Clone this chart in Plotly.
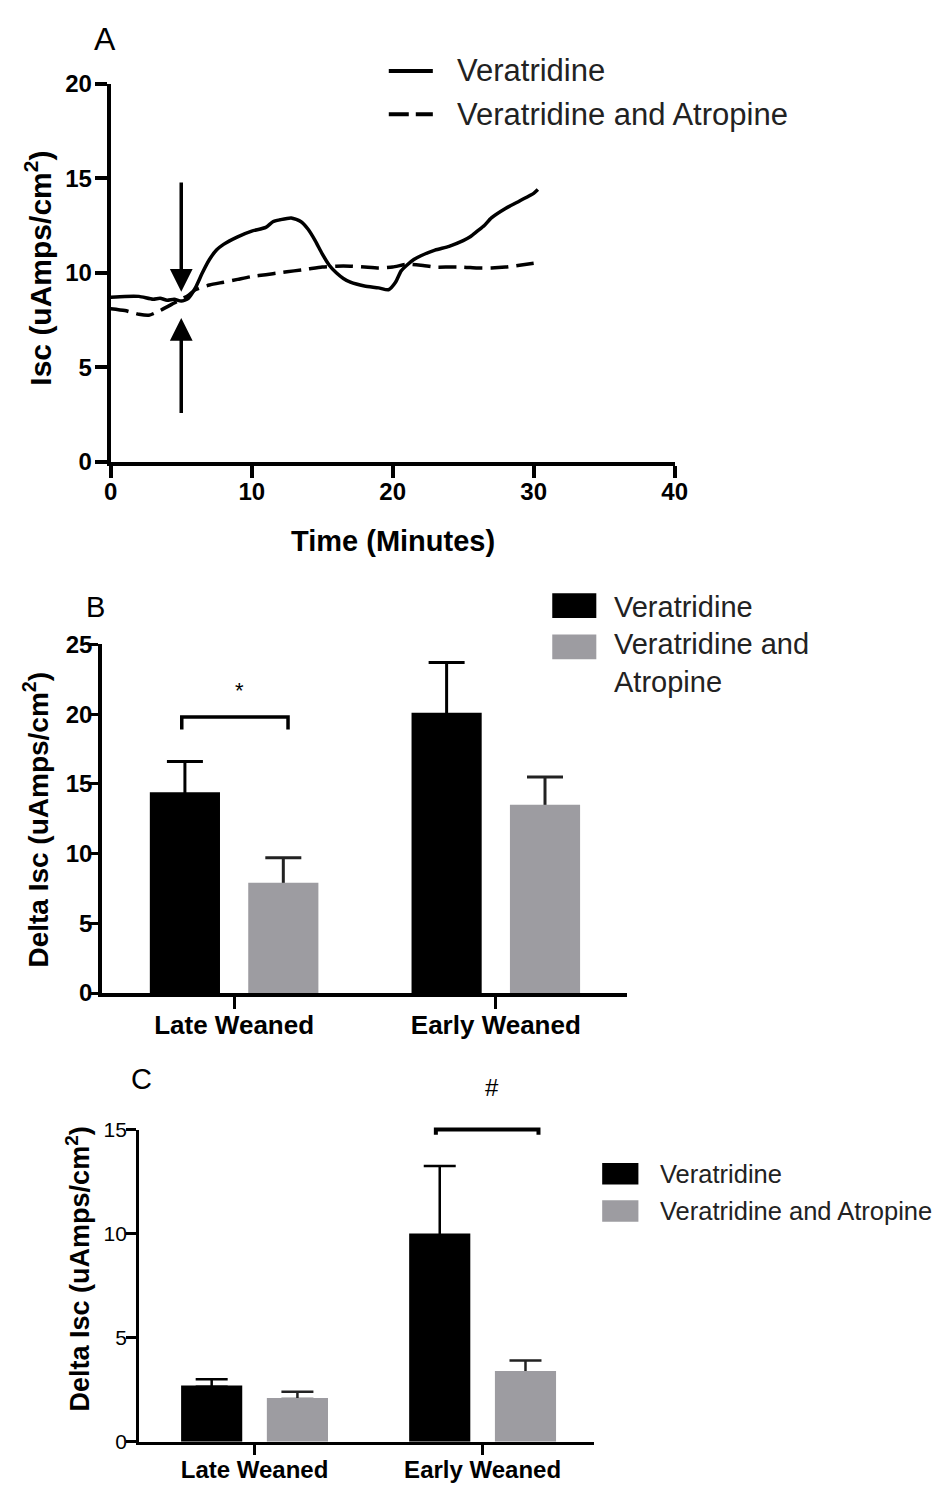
import plotly.graph_objects as go

W, H = 949, 1498
FONT = "Liberation Sans, Arial, sans-serif"
GREY = "#9d9ca1"

# ---- Panel A: short-circuit current time course ----
time_ver = [0, 1, 2, 3, 3.5, 4, 4.5, 5, 5.5, 6, 6.5, 7, 7.5, 8, 9, 10, 11, 11.5, 12,
            12.8, 13.5, 14, 14.5, 15, 15.5, 16, 16.5, 17, 18, 19, 19.7, 20.2, 20.6,
            21, 21.5, 22, 23, 24, 25, 25.5, 26, 26.5, 27, 28, 29, 30, 30.3]
isc_ver = [8.7, 8.75, 8.75, 8.6, 8.65, 8.55, 8.6, 8.5, 8.65, 9.2, 10.0, 10.7, 11.2, 11.5,
           11.9, 12.2, 12.4, 12.7, 12.8, 12.9, 12.7, 12.3, 11.7, 11.0, 10.4, 10.0, 9.7,
           9.5, 9.3, 9.2, 9.1, 9.5, 10.1, 10.4, 10.7, 10.9, 11.2, 11.4, 11.7, 11.9, 12.2,
           12.5, 12.9, 13.4, 13.8, 14.2, 14.4]

time_atr = [0, 1, 2, 2.7, 3.5, 4.5, 5, 5.5, 6, 7, 8, 9, 10, 11, 12, 13, 14, 15, 16, 17,
            18, 19, 20, 21, 22, 23, 24, 25, 26, 27, 28, 29, 30]
isc_atr = [8.1, 8.0, 7.8, 7.75, 8.0, 8.4, 8.6, 8.8, 9.1, 9.35, 9.5, 9.65, 9.8, 9.9, 10.0,
           10.1, 10.2, 10.3, 10.35, 10.35, 10.3, 10.25, 10.3, 10.45, 10.4, 10.3, 10.3,
           10.3, 10.25, 10.25, 10.3, 10.4, 10.5]

# drug addition markers: minute, (tip, tail)
add_time = 5
arrow_down = (9.0, 14.85)
arrow_up = (7.6, 2.5)

# ---- Panels B and C: delta Isc per weaning group ----
groups = ["Late Weaned", "Early Weaned"]
group_x = [0, 1]

b_ver = [14.4, 20.1]
b_ver_sem = [2.2, 3.6]
b_atr = [7.9, 13.5]
b_atr_sem = [1.8, 2.0]
B_YMAX = 25

c_ver = [2.7, 10.0]
c_ver_sem = [0.3, 3.25]
c_atr = [2.1, 3.4]
c_atr_sem = [0.3, 0.5]
C_YMAX = 15

series_names = ["Veratridine", "Veratridine and Atropine"]


def px(x):
    return x / W


def py(y):
    return 1 - y / H


fig = go.Figure()

# Panel A lines
fig.add_trace(go.Scatter(x=time_ver, y=isc_ver, mode="lines", name=series_names[0],
                         line=dict(color="black", width=3.5, shape="spline", smoothing=0.6),
                         xaxis="x", yaxis="y", showlegend=False))
fig.add_trace(go.Scatter(x=time_atr, y=isc_atr, mode="lines", name=series_names[1],
                         line=dict(color="black", width=3.5, dash="18px,8px", shape="spline",
                                   smoothing=0.6),
                         xaxis="x", yaxis="y", showlegend=False))


def bars(xa, ya, vals, sem, color, err_color, group, thick, capw):
    # error whiskers sit on a transparent twin so the bar itself hides the lower end
    fig.add_trace(go.Bar(x=group_x, y=vals, offsetgroup=group, marker_color="rgba(0,0,0,0)",
                         marker_line_width=0, xaxis=xa, yaxis=ya, showlegend=False,
                         hoverinfo="skip",
                         error_y=dict(type="data", symmetric=False, array=sem,
                                      arrayminus=[v * 0.02 for v in vals], color=err_color,
                                      thickness=thick, width=capw)))
    fig.add_trace(go.Bar(x=group_x, y=vals, offsetgroup=group, marker_color=color,
                         marker_line_width=0, xaxis=xa, yaxis=ya, showlegend=False))


bars("x2", "y2", b_ver, b_ver_sem, "black", "black", "ver", 3, 18)
bars("x2", "y2", b_atr, b_atr_sem, GREY, "#222222", "atr", 3, 18)
bars("x3", "y3", c_ver, c_ver_sem, "black", "black", "ver", 2.5, 16)
bars("x3", "y3", c_atr, c_atr_sem, GREY, "#222222", "atr", 2.5, 16)

axis_common = dict(showgrid=False, zeroline=False, showline=True, linecolor="black",
                   ticks="outside", tickcolor="black")

fig.update_layout(
    width=W, height=H,
    margin=dict(l=0, r=0, t=0, b=0),
    paper_bgcolor="white", plot_bgcolor="white",
    font=dict(family=FONT, color="black"),
    barmode="group", bargap=0.248, bargroupgap=0.287,
    showlegend=False,
    # Panel A
    xaxis=dict(domain=[px(106), px(682)], range=[0, 40], tickvals=[0, 10, 20, 30, 40],
               linewidth=4, ticklen=12, tickwidth=3.5, anchor="y",
               tickfont=dict(size=24, weight="bold", family=FONT),
               ticklabelstandoff=-7, **axis_common),
    yaxis=dict(domain=[py(456), py(71)], range=[0, 20], tickvals=[0, 5, 10, 15, 20],
               linewidth=4, ticklen=12, tickwidth=3.5, anchor="x",
               tickfont=dict(size=24, weight="bold", family=FONT),
               ticklabelstandoff=-2, **axis_common),
    # Panel B
    xaxis2=dict(domain=[px(97), px(633)], range=[-0.505, 1.5], tickvals=group_x,
                ticktext=groups, linewidth=3.5, ticklen=12, tickwidth=3, anchor="y2",
                tickfont=dict(size=26, weight="bold", family=FONT),
                ticklabelstandoff=-6, **axis_common),
    yaxis2=dict(domain=[py(997), py(642)], range=[0, B_YMAX], tickvals=[0, 5, 10, 15, 20, 25],
                linewidth=3.5, ticklen=8, tickwidth=3, anchor="x2",
                tickfont=dict(size=24, weight="bold", family=FONT),
                ticklabelstandoff=-7, **axis_common),
    # Panel C
    xaxis3=dict(domain=[px(135), px(600)], range=[-0.506, 1.49], tickvals=group_x,
                ticktext=groups, linewidth=3, ticklen=10, tickwidth=3, anchor="y3",
                tickfont=dict(size=24, weight="bold", family=FONT),
                ticklabelstandoff=-6, **axis_common),
    yaxis3=dict(domain=[py(1454), py(1136)], range=[0, C_YMAX], tickvals=[0, 5, 10, 15],
                linewidth=3, ticklen=10, tickwidth=2.5, anchor="x3",
                tickfont=dict(size=21, family=FONT),
                ticklabelstandoff=-5, **axis_common),
)

ann = []


def text(x, y, s, size, bold=False, xanchor="center", angle=0, color="black",
         ref=("paper", "paper")):
    ann.append(dict(x=x, y=y, xref=ref[0], yref=ref[1], text=s, showarrow=False,
                    xanchor=xanchor, yanchor="middle", textangle=angle, align="left",
                    font=dict(size=size, family=FONT, color=color,
                              weight="bold" if bold else "normal")))


# panel letters
text(px(100), py(25), "A", 32)
text(px(90), py(604), "B", 29)
text(px(137), py(1085), "C", 29)

# axis titles
text(px(32), py(259), "Isc (uAmps/cm<sup>2</sup>)", 30, bold=True, angle=-90)
text(px(394), py(537), "Time (Minutes)", 29, bold=True)
text(px(30), py(820), "Delta Isc (uAmps/cm<sup>2</sup>)", 28, bold=True, angle=-90)
text(px(72), py(1278), "Delta Isc (uAmps/cm<sup>2</sup>)", 27, bold=True, angle=-90)

# significance marks (bracket height in data units, drawn against the axis domain)
b_bracket = dict(x0=-0.2, x1=0.206, top=19.8, foot=18.9)
c_bracket = dict(x0=1 - 0.205, x1=1 + 0.245, top=15.0, foot=14.75)
text(0.02, 21.7 / B_YMAX, "*", 22, ref=("x2", "y2 domain"))
text(1.04, 17.0 / C_YMAX, "#", 24, ref=("x3", "y3 domain"))

# Panel A legend
text(px(458), py(58), series_names[0], 31, xanchor="left", color="#222222")
text(px(458), py(102), series_names[1], 31, xanchor="left", color="#222222")
# Panel B legend
text(px(618), py(604), series_names[0], 29, xanchor="left", color="#222222")
text(px(618), py(661), "Veratridine and<br>Atropine", 29, xanchor="left", color="#222222")
# Panel C legend
text(px(665), py(1181), series_names[0], 25.5, xanchor="left", color="#222222")
text(px(665), py(1219), series_names[1], 25.5, xanchor="left", color="#222222")

# drug addition arrows
for tip, tail in (arrow_down, arrow_up):
    ann.append(dict(x=add_time, y=tip, ax=add_time, ay=tail, xref="x", yref="y",
                    axref="x", ayref="y", text="", showarrow=True, arrowhead=2,
                    arrowsize=1.3, arrowwidth=3.5, arrowcolor="black"))

fig.update_layout(annotations=ann)


def bracket(xa, ya, b, ymax, width):
    return dict(type="path", xref=xa, yref=ya + " domain",
                path=(f"M {b['x0']},{b['foot'] / ymax} L {b['x0']},{b['top'] / ymax} "
                      f"L {b['x1']},{b['top'] / ymax} L {b['x1']},{b['foot'] / ymax}"),
                line=dict(color="black", width=width))


shapes = [
    bracket("x2", "y2", b_bracket, B_YMAX, 3.5),
    bracket("x3", "y3", c_bracket, C_YMAX, 4),
    dict(type="line", xref="paper", yref="paper", x0=px(390), x1=px(435), y0=py(58), y1=py(58),
         line=dict(color="black", width=4)),
    dict(type="line", xref="paper", yref="paper", x0=px(390), x1=px(435), y0=py(102), y1=py(102),
         line=dict(color="black", width=4, dash="20px,7px")),
    dict(type="rect", xref="paper", yref="paper", x0=px(557), x1=px(602), y0=py(615), y1=py(590),
         fillcolor="black", line_width=0),
    dict(type="rect", xref="paper", yref="paper", x0=px(557), x1=px(602), y0=py(657), y1=py(632),
         fillcolor=GREY, line_width=0),
    dict(type="rect", xref="paper", yref="paper", x0=px(608), x1=px(645), y0=py(1192), y1=py(1170),
         fillcolor="black", line_width=0),
    dict(type="rect", xref="paper", yref="paper", x0=px(608), x1=px(645), y0=py(1230), y1=py(1208),
         fillcolor=GREY, line_width=0),
]
fig.update_layout(shapes=shapes)

fig.write_html("out.html")
